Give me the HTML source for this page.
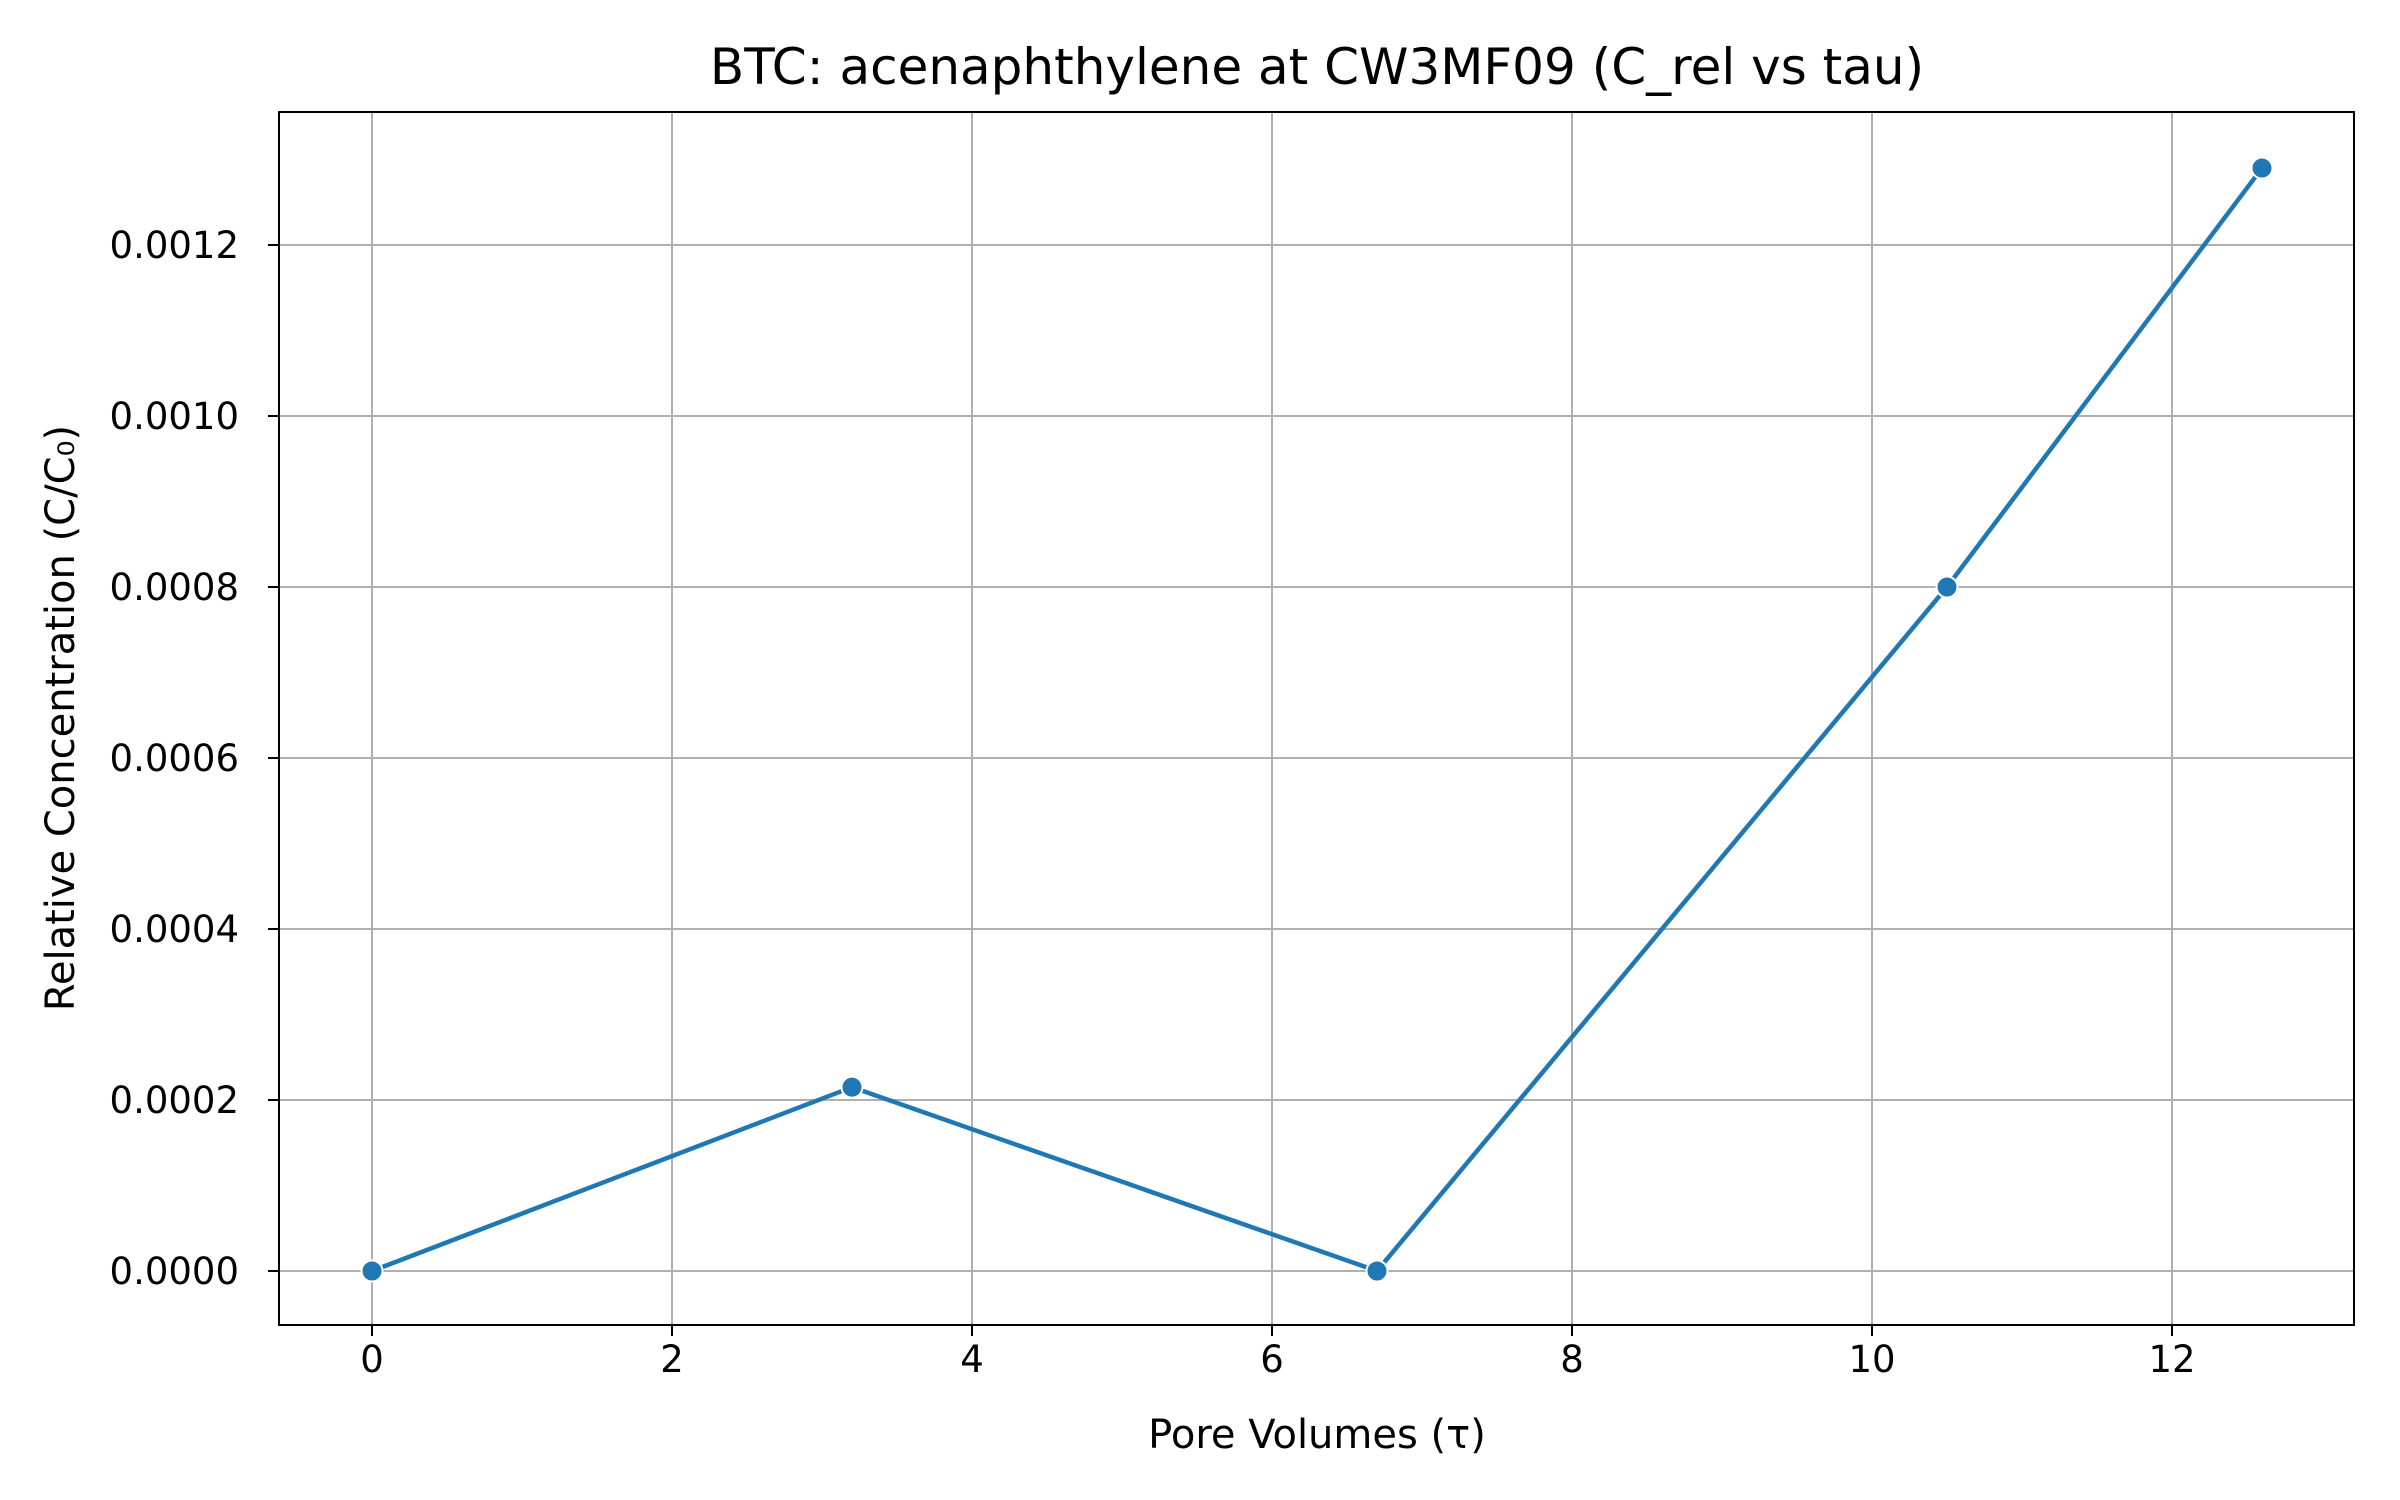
<!DOCTYPE html>
<html><head><meta charset="utf-8"><style>
html,body{margin:0;padding:0;background:#fff;}
svg{display:block;font-family:"DejaVu Sans","Liberation Sans",sans-serif;}
</style></head><body>
<svg id="chart" width="2400" height="1500" viewBox="0 0 2400 1500" xmlns="http://www.w3.org/2000/svg">
<rect width="2400" height="1500" fill="#fff"/>
<g id="grid"></g>
<g id="ticks"></g>
<g id="series"></g>
<rect x="279" y="112" width="2075" height="1213" fill="none" stroke="#000" stroke-width="2"/>
<text x="1317" y="84" font-size="50" text-anchor="middle">BTC: acenaphthylene at CW3MF09 (C_rel vs tau)</text>
<text x="1317" y="1448" font-size="40" text-anchor="middle">Pore Volumes (τ)</text>
<text transform="translate(74,718) rotate(-90)" font-size="40" text-anchor="middle">Relative Concentration (C/C₀)</text>
</svg>
<script>
const xValues=[0,3.2,6.7,10.5,12.6];
const yValues=[0,0.000215,0,0.0008,0.00129];
const xTicks=[0,2,4,6,8,10,12];
const yTicks=[0,0.0002,0.0004,0.0006,0.0008,0.0010,0.0012];
const yTickLabels=["0.0000","0.0002","0.0004","0.0006","0.0008","0.0010","0.0012"];
const NS="http://www.w3.org/2000/svg";
const L=279,R=2354,T=112,B=1325;
function xs(v){return 372+v*(2172-372)/12;}
function ys(v){return 1271-v*(1271-245)/0.0012;}
function mk(t,a,p){const e=document.createElementNS(NS,t);for(const k in a)e.setAttribute(k,a[k]);p.appendChild(e);return e;}
const grid=document.getElementById('grid'),ticks=document.getElementById('ticks'),ser=document.getElementById('series');
xTicks.forEach(v=>{const x=xs(v);
const g=mk('line',{x1:x,x2:x,y1:T,y2:B,stroke:'#b0b0b0','stroke-width':2},grid);


const t=mk('line',{x1:x,x2:x,y1:B,y2:B+11,stroke:'#000','stroke-width':2},ticks);


const l=mk('text',{x:x,y:B+47,'font-size':37,'text-anchor':'middle'},ticks);l.textContent=v;

});
yTicks.forEach((v,i)=>{const y=ys(v);
const g=mk('line',{x1:L,x2:R,y1:y,y2:y,stroke:'#b0b0b0','stroke-width':2},grid);


const t=mk('line',{x1:L-11,x2:L,y1:y,y2:y,stroke:'#000','stroke-width':2},ticks);


const l=mk('text',{x:L-40,y:y+13,'font-size':37,'text-anchor':'end'},ticks);l.textContent=yTickLabels[i];

});
const pts=xValues.map((v,i)=>xs(v)+','+ys(yValues[i])).join(' ');
const pl=mk('polyline',{points:pts,fill:'none',stroke:'#1f77b4','stroke-width':4.5,'stroke-linejoin':'round'},ser);


xValues.forEach((v,i)=>{const c=mk('circle',{cx:xs(v),cy:ys(yValues[i]),r:10.5,fill:'#1f77b4',stroke:'#fff','stroke-width':2},ser);

});
</script>
</body></html>
